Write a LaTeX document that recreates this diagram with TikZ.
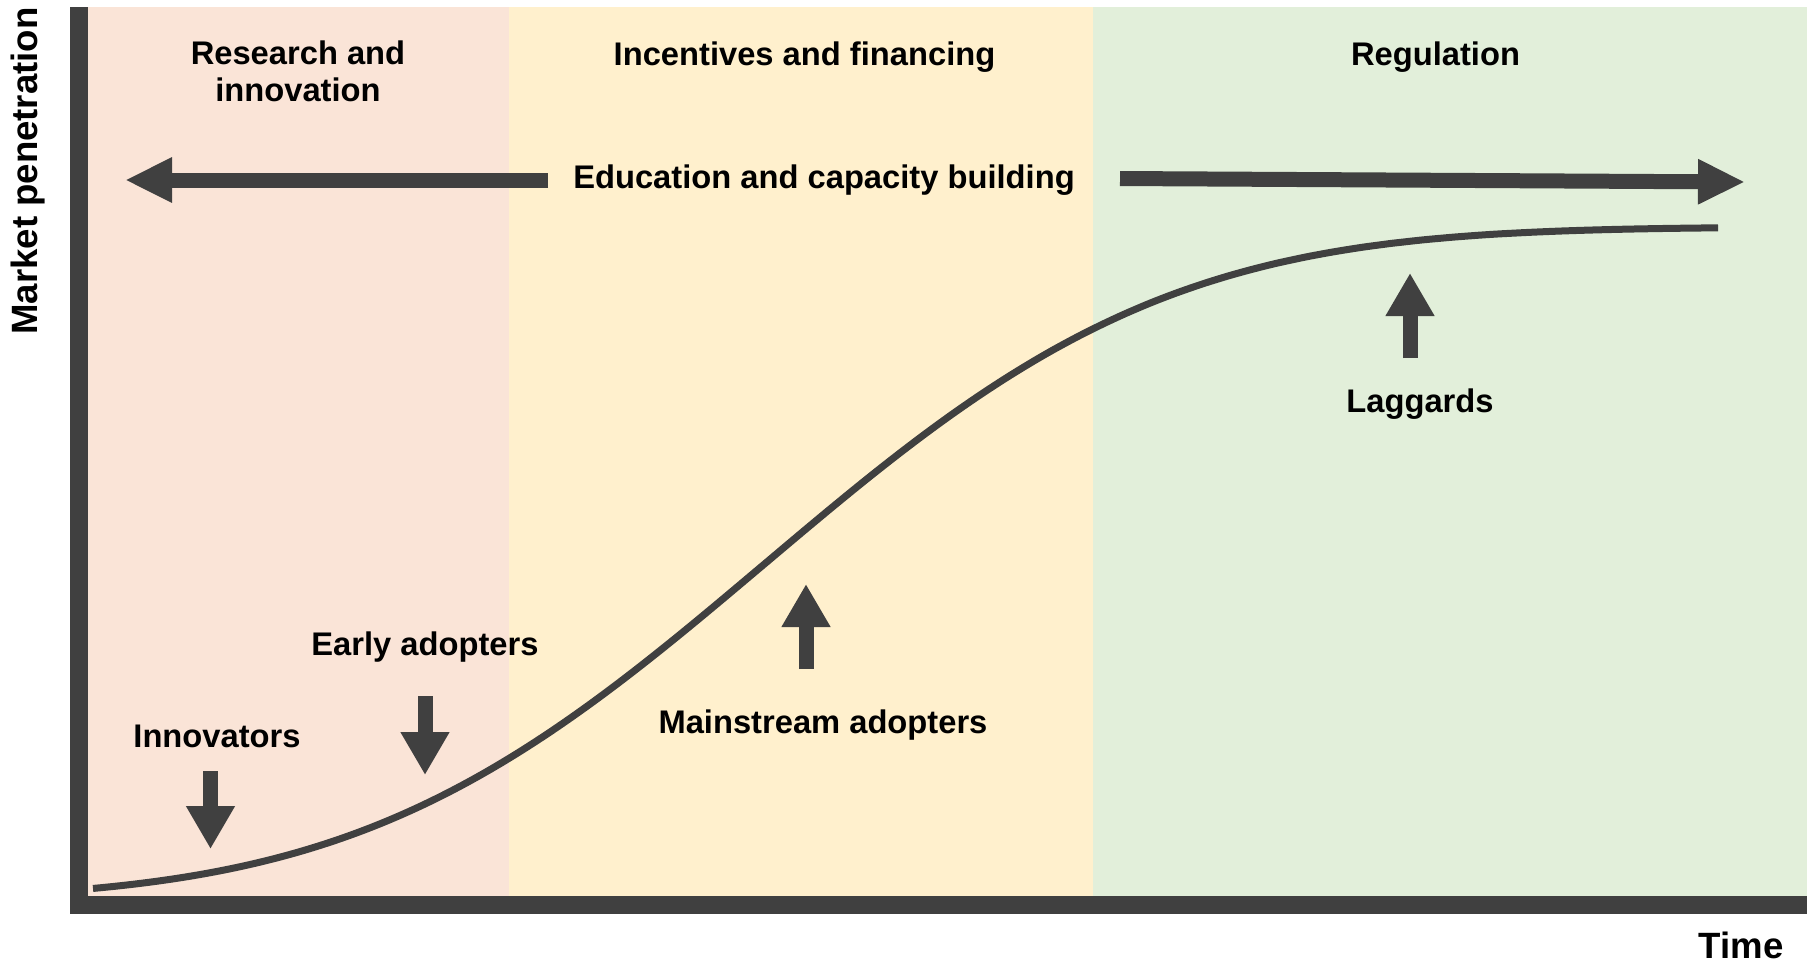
\documentclass[tikz,border=0pt]{standalone}
\usepackage{fontspec}
\setmainfont{Liberation Sans}
\usetikzlibrary{arrows.meta}
\definecolor{pinkbg}{RGB}{250,228,215}
\definecolor{yellowbg}{RGB}{255,240,205}
\definecolor{greenbg}{RGB}{226,239,218}
\definecolor{axisgray}{RGB}{64,64,64}
\begin{document}
\begin{tikzpicture}[x=0.5pt,y=-0.5pt,
  declare function={zz(\t)=(\t-765)/318;},
  lbl/.style={font=\fontsize{16.35}{18.5}\selectfont\bfseries, inner sep=0pt, text=black, align=center},
  axlbl/.style={font=\fontsize{18.3}{22}\selectfont\bfseries, inner sep=0pt, text=black},
  blockarrow/.style={draw=axisgray, line width=7.5pt, -{Triangle[width=23pt,length=21.5pt]}},
  eduarrow/.style={draw=axisgray, line width=7.5pt, -{Triangle[width=21pt,length=23.5pt]}},
  curve/.style={draw=axisgray, line width=3.5pt}]
\useasboundingbox (0,0) rectangle (1807,966);
% phase backgrounds
\fill[pinkbg] (88,7) rectangle (509,896);
\fill[yellowbg] (509,7) rectangle (1093,896);
\fill[greenbg] (1093,7) rectangle (1807,896);
% axes
\draw[axisgray, line width=9pt, miter limit=10] (79,7) -- (79,905) -- (1807,905);
% axis labels
\node[axlbl, rotate=90, anchor=base] (ylab) at (37,171) {Market penetration};
\node[axlbl, anchor=base] (xlab) at (1741,958) {Time};
% phase titles
\node[lbl] (research) at (298,71.5) {Research and\\innovation};
\node[lbl, anchor=base] (incent) at (804.5,65) {Incentives and financing};
\node[lbl, anchor=base] (regul) at (1435.5,65) {Regulation};
% education arrows
\node[lbl, anchor=base] (edu) at (824,188) {Education and capacity building};
\coordinate (eduLstart) at (548,180);
\coordinate (eduLtip) at (125,180);
\coordinate (eduRstart) at (1120,178.5);
\coordinate (eduRtip) at (1745,182);
\draw[eduarrow] (eduLstart) -- (eduLtip);
\draw[eduarrow] (eduRstart) -- (eduRtip);
% adoption curve
\draw[curve] plot[domain=93:1718, samples=160, smooth]
  (\x, {900-673/(1+exp(-1.5958*(zz(\x)+0.044715*zz(\x)*zz(\x)*zz(\x))))});
% adopter groups
\node[lbl, anchor=base] (innov) at (217,747) {Innovators};
\coordinate (innovTop) at (210.5,771);
\coordinate (innovTip) at (210.5,849);
\draw[blockarrow] (innovTop) -- (innovTip);
\node[lbl, anchor=base] (early) at (425,655) {Early adopters};
\coordinate (earlyTop) at (425,696);
\coordinate (earlyTip) at (425,775);
\draw[blockarrow] (earlyTop) -- (earlyTip);
\node[lbl, anchor=base] (main) at (823,733) {Mainstream adopters};
\coordinate (mainBot) at (806,669);
\coordinate (mainTip) at (806,584);
\draw[blockarrow] (mainBot) -- (mainTip);
\node[lbl, anchor=base] (lag) at (1420,412) {Laggards};
\coordinate (lagBot) at (1410,358);
\coordinate (lagTip) at (1410,273);
\draw[blockarrow] (lagBot) -- (lagTip);
\end{tikzpicture}
\end{document}
